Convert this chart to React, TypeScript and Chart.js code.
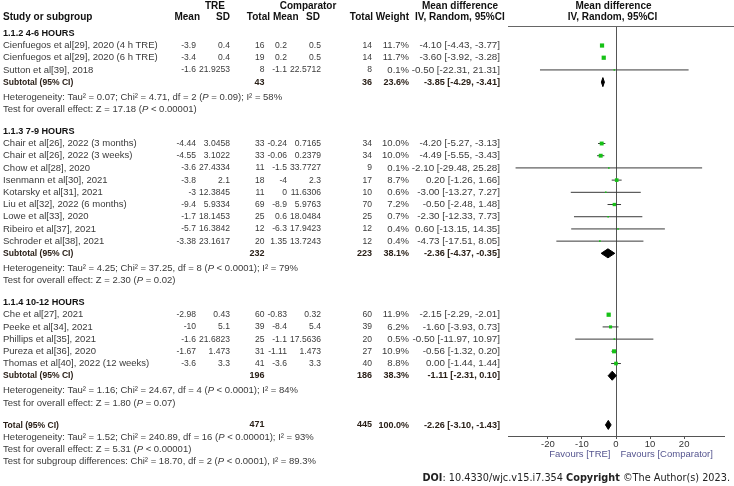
import React, { useEffect, useRef } from "react";
import { Chart, registerables } from "chart.js";

Chart.register(...registerables);

// ---------------- DATA ----------------
const groupTitles = ["1.1.2 4-6 HOURS", "1.1.3 7-9 HOURS", "1.1.4 10-12 HOURS"];

const studyNames = [
  "Cienfuegos et al[29], 2020 (4 h TRE)",
  "Cienfuegos et al[29], 2020 (6 h TRE)",
  "Sutton et al[39], 2018",
  "Chair et al[26], 2022 (3 months)",
  "Chair et al[26], 2022 (3 weeks)",
  "Chow et al[28], 2020",
  "Isenmann et al[30], 2021",
  "Kotarsky et al[31], 2021",
  "Liu et al[32], 2022 (6 months)",
  "Lowe et al[33], 2020",
  "Ribeiro et al[37], 2021",
  "Schroder et al[38], 2021",
  "Che et al[27], 2021",
  "Peeke et al[34], 2021",
  "Phillips et al[35], 2021",
  "Pureza et al[36], 2020",
  "Thomas et al[40], 2022 (12 weeks)",
];
const studyGroup = [0, 0, 0, 1, 1, 1, 1, 1, 1, 1, 1, 1, 2, 2, 2, 2, 2];
const treMean = [-3.9, -3.4, -1.6, -4.44, -4.55, -3.6, -3.8, -3, -9.4, -1.7, -5.7, -3.38, -2.98, -10, -1.6, -1.67, -3.6];
const treSD = [0.4, 0.4, 21.9253, 3.0458, 3.1022, 27.4334, 2.1, 12.3845, 5.9334, 18.1453, 16.3842, 23.1617, 0.43, 5.1, 21.6823, 1.473, 3.3];
const treN = [16, 19, 8, 33, 33, 11, 18, 11, 69, 25, 12, 20, 60, 39, 25, 31, 41];
const compMean = [0.2, 0.2, -1.1, -0.24, -0.06, -1.5, -4, 0, -8.9, 0.6, -6.3, 1.35, -0.83, -8.4, -1.1, -1.11, -3.6];
const compSD = [0.5, 0.5, 22.5712, 0.7165, 0.2379, 33.7727, 2.3, 11.6306, 5.9763, 18.0484, 17.9423, 13.7243, 0.32, 5.4, 17.5636, 1.473, 3.3];
const compN = [14, 14, 8, 34, 34, 9, 17, 10, 70, 25, 12, 12, 60, 39, 20, 27, 40];
const studyWeight = [11.7, 11.7, 0.1, 10.0, 10.0, 0.1, 8.7, 0.6, 7.2, 0.7, 0.4, 0.4, 11.9, 6.2, 0.5, 10.9, 8.8];
const studyMD = [-4.1, -3.6, -0.5, -4.2, -4.49, -2.1, 0.2, -3.0, -0.5, -2.3, 0.6, -4.73, -2.15, -1.6, -0.5, -0.56, 0.0];
const studyLo = [-4.43, -3.92, -22.31, -5.27, -5.55, -29.48, -1.26, -13.27, -2.48, -12.33, -13.15, -17.51, -2.29, -3.93, -11.97, -1.32, -1.44];
const studyHi = [-3.77, -3.28, 21.31, -3.13, -3.43, 25.28, 1.66, 7.27, 1.48, 7.73, 14.35, 8.05, -2.01, 0.73, 10.97, 0.2, 1.44];

const subTreN = [43, 232, 196];
const subCompN = [36, 223, 186];
const subWeight = [23.6, 38.1, 38.3];
const subMD = [-3.85, -2.36, -1.11];
const subLo = [-4.29, -4.37, -2.31];
const subHi = [-3.41, -0.35, 0.1];
const subHet = [
  "Heterogeneity: Tau\u00b2 = 0.07; Chi\u00b2 = 4.71, df = 2 (_P_ = 0.09); I\u00b2 = 58%",
  "Heterogeneity: Tau\u00b2 = 4.25; Chi\u00b2 = 37.25, df = 8 (_P_ < 0.0001); I\u00b2 = 79%",
  "Heterogeneity: Tau\u00b2 = 1.16; Chi\u00b2 = 24.67, df = 4 (_P_ < 0.0001); I\u00b2 = 84%",
];
const subTest = [
  "Test for overall effect: Z = 17.18 (_P_ < 0.00001)",
  "Test for overall effect: Z = 2.30 (_P_ = 0.02)",
  "Test for overall effect: Z = 1.80 (_P_ = 0.07)",
];

const totalTreN = 471;
const totalCompN = 445;
const totalWeight = 100.0;
const totalMD = -2.26;
const totalLo = -3.1;
const totalHi = -1.43;
const totalNotes = [
  "Heterogeneity: Tau\u00b2 = 1.52; Chi\u00b2 = 240.89, df = 16 (_P_ < 0.00001); I\u00b2 = 93%",
  "Test for overall effect: Z = 5.31 (_P_ < 0.00001)",
  "Test for subgroup differences: Chi\u00b2 = 18.70, df = 2 (_P_ < 0.0001), I\u00b2 = 89.3%",
];

const xTicks = [-20, -10, 0, 10, 20];
const favourLabels = ["Favours [TRE]", "Favours [Comparator]"];

// ---------------- LAYOUT / STYLE ----------------
const W = 734;
const H = 486;
const FONT = "'Liberation Sans', Arial, sans-serif";
const BODY = `9.5px ${FONT}`;
const NUM = `9px ${FONT}`;
const NUM_BOLD = `bold 9px ${FONT}`;
const SUB = `bold 9.5px ${FONT}`;
const HEAD = `bold 10px ${FONT}`;
const CI_FONT = `9.8px ${FONT}`;
const CI_BOLD = `bold 9.6px ${FONT}`;
const TEXT_COLOR = "#3a3a3a";
const HEAD_COLOR = "#111";
const SUB_COLOR = "#2a2018";
const GREEN = "#16c116";
const DIAMOND_HALF = 0.37; // in row units

// column anchors (right edges unless noted)
const COL = { name: 3, tMean: 196, tSD: 230, tN: 264.5, cMean: 287, cSD: 321, cN: 372, wt: 409, ci: 500 };
const NUM_SX = 0.95;

type Row = { kind: string; y: number; idx: number };

function buildRows(): Row[] {
  const rows: Row[] = [];
  let y = 0;
  for (let g = 0; g < groupTitles.length; g++) {
    if (g > 0) y += 1.8;
    rows.push({ kind: "heading", y, idx: g });
    studyNames.forEach((_, i) => {
      if (studyGroup[i] === g) {
        y += 1;
        rows.push({ kind: "study", y, idx: i });
      }
    });
    y += 1;
    rows.push({ kind: "subtotal", y, idx: g });
    y += 1.23;
    rows.push({ kind: "het", y, idx: g });
    y += 1;
    rows.push({ kind: "test", y, idx: g });
  }
  y += 1.8;
  rows.push({ kind: "total", y, idx: 0 });
  totalNotes.forEach((_, i) => {
    y += 1;
    rows.push({ kind: "note", y, idx: i });
  });
  return rows;
}

const f2 = (v: number) => v.toFixed(2);
const ciText = (m: number, lo: number, hi: number) => `${f2(m)} [${f2(lo)}, ${f2(hi)}]`;

function drawText(
  ctx: CanvasRenderingContext2D,
  s: string,
  x: number,
  y: number,
  align: CanvasTextAlign,
  font: string,
  color: string,
  sx = 1
) {
  ctx.save();
  ctx.translate(x, y);
  ctx.scale(sx, 1);
  ctx.font = font;
  ctx.fillStyle = color;
  ctx.textAlign = align;
  ctx.textBaseline = "middle";
  ctx.fillText(s, 0, 0);
  ctx.restore();
}

function drawRich(ctx: CanvasRenderingContext2D, s: string, x: number, y: number, color: string) {
  const parts = s.split("_");
  let cx = x;
  ctx.save();
  ctx.textAlign = "left";
  ctx.textBaseline = "middle";
  ctx.fillStyle = color;
  parts.forEach((p, i) => {
    ctx.font = i % 2 === 1 ? `italic ${BODY}` : BODY;
    ctx.fillText(p, cx, y);
    cx += ctx.measureText(p).width;
  });
  ctx.restore();
}

export default function App() {
  const ref = useRef<HTMLCanvasElement | null>(null);

  useEffect(() => {
    const canvas = ref.current;
    if (!canvas) return;
    const rows = buildRows();
    const studyY: number[] = [];
    const subY: number[] = [];
    let totalY = 0;
    rows.forEach((r) => {
      if (r.kind === "study") studyY[r.idx] = r.y;
      if (r.kind === "subtotal") subY[r.idx] = r.y;
      if (r.kind === "total") totalY = r.y;
    });

    const ciSets = studyNames.map((_, i) => ({
      type: "line" as const,
      data: [
        { x: studyLo[i], y: studyY[i] },
        { x: studyHi[i], y: studyY[i] },
      ],
      borderColor: "#3a3a3a",
      borderWidth: 1,
      pointRadius: 0,
      showLine: true,
      fill: false,
      order: 2,
    }));

    const squareSet = {
      type: "scatter" as const,
      data: studyMD.map((m, i) => ({ x: m, y: studyY[i] })),
      pointStyle: "rect",
      pointRadius: studyWeight.map((w) => Math.max(1.1, 3.0 * Math.sqrt(w / 11.9))),
      backgroundColor: GREEN,
      borderColor: GREEN,
      borderWidth: 0,
      order: 1,
    };

    const diamonds = [
      ...subMD.map((m, g) => ({ m, lo: subLo[g], hi: subHi[g], y: subY[g] })),
      { m: totalMD, lo: totalLo, hi: totalHi, y: totalY },
    ];
    const diamondSets = diamonds.map((d) => ({
      type: "line" as const,
      data: [
        { x: d.lo, y: d.y },
        { x: d.m, y: d.y - DIAMOND_HALF },
        { x: d.hi, y: d.y },
        { x: d.m, y: d.y + DIAMOND_HALF },
        { x: d.lo, y: d.y },
      ],
      fill: "shape",
      backgroundColor: "#000",
      borderColor: "#000",
      borderWidth: 1,
      pointRadius: 0,
      tension: 0,
      showLine: true,
      order: 0,
    }));

    const tablePlugin = {
      id: "tablePlugin",
      beforeDraw(chart: any) {
        const ctx = chart.ctx;
        ctx.save();
        ctx.fillStyle = "#fff";
        ctx.fillRect(0, 0, chart.width, chart.height);
        ctx.restore();
      },
      afterDraw(chart: any) {
        const ctx: CanvasRenderingContext2D = chart.ctx;
        const ys = chart.scales.y;
        const xs = chart.scales.x;
        const area = chart.chartArea;
        ctx.save();

        // header line above the plot
        ctx.strokeStyle = "#666";
        ctx.lineWidth = 1;
        ctx.beginPath();
        ctx.moveTo(area.left, Math.round(area.top) + 0.5);
        ctx.lineTo(W, Math.round(area.top) + 0.5);
        ctx.stroke();

        // headers
        const h1 = 6;
        const h2 = 17.5;
        drawText(ctx, "TRE", 215, h1, "center", HEAD, HEAD_COLOR);
        drawText(ctx, "Comparator", 308, h1, "center", HEAD, HEAD_COLOR);
        drawText(ctx, "Mean difference", 460, h1, "center", HEAD, HEAD_COLOR);
        drawText(ctx, "Mean difference", 613.5, h1, "center", HEAD, HEAD_COLOR);
        drawText(ctx, "Study or subgroup", 3, h2, "left", HEAD, HEAD_COLOR);
        drawText(ctx, "Mean", 200, h2, "right", HEAD, HEAD_COLOR);
        drawText(ctx, "SD", 230, h2, "right", HEAD, HEAD_COLOR);
        drawText(ctx, "Total", 270, h2, "right", HEAD, HEAD_COLOR);
        drawText(ctx, "Mean", 298.5, h2, "right", HEAD, HEAD_COLOR);
        drawText(ctx, "SD", 320, h2, "right", HEAD, HEAD_COLOR);
        drawText(ctx, "Total", 373, h2, "right", HEAD, HEAD_COLOR);
        drawText(ctx, "Weight", 409, h2, "right", HEAD, HEAD_COLOR);
        drawText(ctx, "IV, Random, 95%CI", 415, h2, "left", HEAD, HEAD_COLOR);
        drawText(ctx, "IV, Random, 95%CI", 612.5, h2, "center", HEAD, HEAD_COLOR);

        rows.forEach((r) => {
          const py = ys.getPixelForValue(r.y);
          if (r.kind === "heading") {
            drawText(ctx, groupTitles[r.idx], COL.name, py, "left", SUB, HEAD_COLOR, 0.96);
          } else if (r.kind === "study") {
            const i = r.idx;
            drawText(ctx, studyNames[i], COL.name, py, "left", BODY, TEXT_COLOR);
            drawText(ctx, String(treMean[i]), COL.tMean, py, "right", NUM, TEXT_COLOR, NUM_SX);
            drawText(ctx, String(treSD[i]), COL.tSD, py, "right", NUM, TEXT_COLOR, NUM_SX);
            drawText(ctx, String(treN[i]), COL.tN, py, "right", NUM, TEXT_COLOR, NUM_SX);
            drawText(ctx, String(compMean[i]), COL.cMean, py, "right", NUM, TEXT_COLOR, NUM_SX);
            drawText(ctx, String(compSD[i]), COL.cSD, py, "right", NUM, TEXT_COLOR, NUM_SX);
            drawText(ctx, String(compN[i]), COL.cN, py, "right", NUM, TEXT_COLOR, NUM_SX);
            drawText(ctx, studyWeight[i].toFixed(1) + "%", COL.wt, py, "right", BODY, TEXT_COLOR);
            drawText(ctx, ciText(studyMD[i], studyLo[i], studyHi[i]), COL.ci, py, "right", CI_FONT, TEXT_COLOR);
          } else if (r.kind === "subtotal" || r.kind === "total") {
            const isSub = r.kind === "subtotal";
            const g = r.idx;
            const label = isSub ? "Subtotal (95% CI)" : "Total (95% CI)";
            const nT = isSub ? subTreN[g] : totalTreN;
            const nC = isSub ? subCompN[g] : totalCompN;
            const wt = isSub ? subWeight[g] : totalWeight;
            const ci = isSub ? ciText(subMD[g], subLo[g], subHi[g]) : ciText(totalMD, totalLo, totalHi);
            drawText(ctx, label, COL.name, py, "left", SUB, SUB_COLOR, 0.9);
            drawText(ctx, String(nT), COL.tN, py, "right", NUM_BOLD, SUB_COLOR);
            drawText(ctx, String(nC), COL.cN, py, "right", NUM_BOLD, SUB_COLOR);
            drawText(ctx, wt.toFixed(1) + "%", COL.wt, py, "right", SUB, SUB_COLOR, 0.95);
            drawText(ctx, ci, COL.ci, py, "right", CI_BOLD, SUB_COLOR, 0.95);
          } else if (r.kind === "het") {
            drawRich(ctx, subHet[r.idx], COL.name, py, TEXT_COLOR);
          } else if (r.kind === "test") {
            drawRich(ctx, subTest[r.idx], COL.name, py, TEXT_COLOR);
          } else if (r.kind === "note") {
            drawRich(ctx, totalNotes[r.idx], COL.name, py, TEXT_COLOR);
          }
        });

        // favours labels
        const zeroX = xs.getPixelForValue(0);
        const favY = area.bottom + 18.5;
        drawText(ctx, favourLabels[0], zeroX - 5.5, favY, "right", `9.5px ${FONT}`, "#55558f");
        drawText(ctx, favourLabels[1], zeroX + 4.5, favY, "left", `9.5px ${FONT}`, "#55558f");

        ctx.restore();
      },
    };

    const chart = new Chart(canvas, {
      type: "scatter",
      data: { datasets: [...ciSets, squareSet, ...diamondSets] as any },
      options: {
        animation: false,
        responsive: false,
        events: [],
        layout: { padding: { left: 508, right: 10, top: 26, bottom: 0 } },
        plugins: { legend: { display: false }, tooltip: { enabled: false } },
        scales: {
          x: {
            type: "linear",
            min: -31.7,
            max: 31.7,
            afterBuildTicks: (s: any) => {
              s.ticks = xTicks.map((v) => ({ value: v }));
            },
            afterFit: (s: any) => {
              s.height = 50;
            },
            ticks: { font: { size: 9.5, family: FONT }, color: "#333", padding: 0 },
            grid: {
              drawOnChartArea: true,
              color: (c: any) => (c.tick && c.tick.value === 0 ? "#555" : "rgba(0,0,0,0)"),
              tickColor: "#555",
              tickLength: 3,
            },
            border: { display: true, color: "#555", width: 1 },
          },
          y: {
            type: "linear",
            display: false,
            reverse: true,
            min: -0.6,
            max: 33.0,
          },
        },
      },
      plugins: [tablePlugin],
    });
    return () => chart.destroy();
  }, []);

  return (
    <div style={{ position: "fixed", left: 0, top: 0, width: W, height: H, background: "#fff" }}>
      <canvas ref={ref} width={W} height={H} style={{ display: "block", width: W, height: H }} />
      <div
        style={{
          position: "absolute",
          right: 4,
          top: 470,
          fontFamily: "'DejaVu Sans Condensed', 'DejaVu Sans', sans-serif",
          fontSize: 10.8,
          lineHeight: "16px",
          color: "#222",
          whiteSpace: "nowrap",
        }}
      >
        <b>DOI</b>: 10.4330/wjc.v15.i7.354 <b>Copyright</b> ©The Author(s) 2023.
      </div>
    </div>
  );
}
